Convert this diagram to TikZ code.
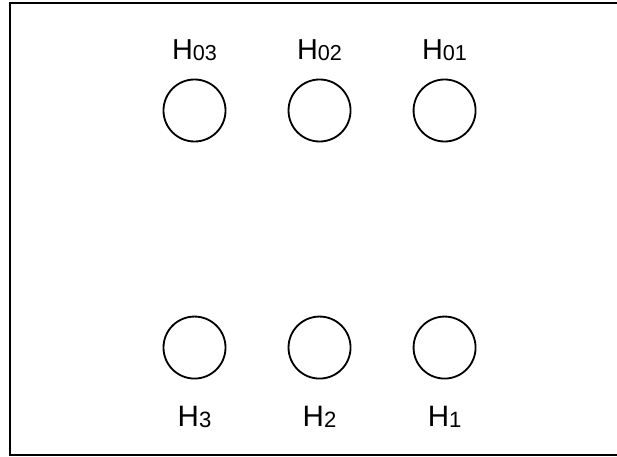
\documentclass[tikz,border=0pt]{standalone}
\usepackage{fontspec}
\setmainfont{Liberation Sans}
\usetikzlibrary{positioning}
\tikzset{hole/.style={draw, circle, line width=1.3pt, minimum size=1.55cm, inner sep=0pt, outer sep=0pt}}
\tikzset{toplbl/.style={font=\fontsize{20.5}{22}\selectfont, inner sep=0pt}}
\tikzset{botlbl/.style={font=\fontsize{21}{23}\selectfont, inner sep=0pt}}
\newcommand{\hname}[1]{H\raisebox{-0.1ex}{\scalebox{0.75}{#1}}}

\begin{document}
\begin{tikzpicture}[x=0.025cm, y=-0.025cm]
	\useasboundingbox (0,0) rectangle (617,457);
	\draw[line width=1.7pt] (617,3) -- (10,3) -- (10,455) -- (617,455);
	% upper row
	\node[hole] (t3) at (194.5,110.5) {};
	\node[hole, right=1.575cm of t3] (t2) {};
	\node[hole, right=1.575cm of t2] (t1) {};
	\node[toplbl, above=0.45cm of t3] (lt3) {\hname{03}};
	\node[toplbl, above=0.45cm of t2] (lt2) {\hname{02}};
	\node[toplbl, above=0.45cm of t1] (lt1) {\hname{01}};
	% lower row
	\node[hole, below=4.375cm of t3] (b3) {};
	\node[hole, right=1.575cm of b3] (b2) {};
	\node[hole, right=1.575cm of b2] (b1) {};
	\node[botlbl, below=0.68cm of b3] (lb3) {\hname{3}};
	\node[botlbl, below=0.68cm of b2] (lb2) {\hname{2}};
	\node[botlbl, below=0.68cm of b1] (lb1) {\hname{1}};
\end{tikzpicture}
\end{document}
